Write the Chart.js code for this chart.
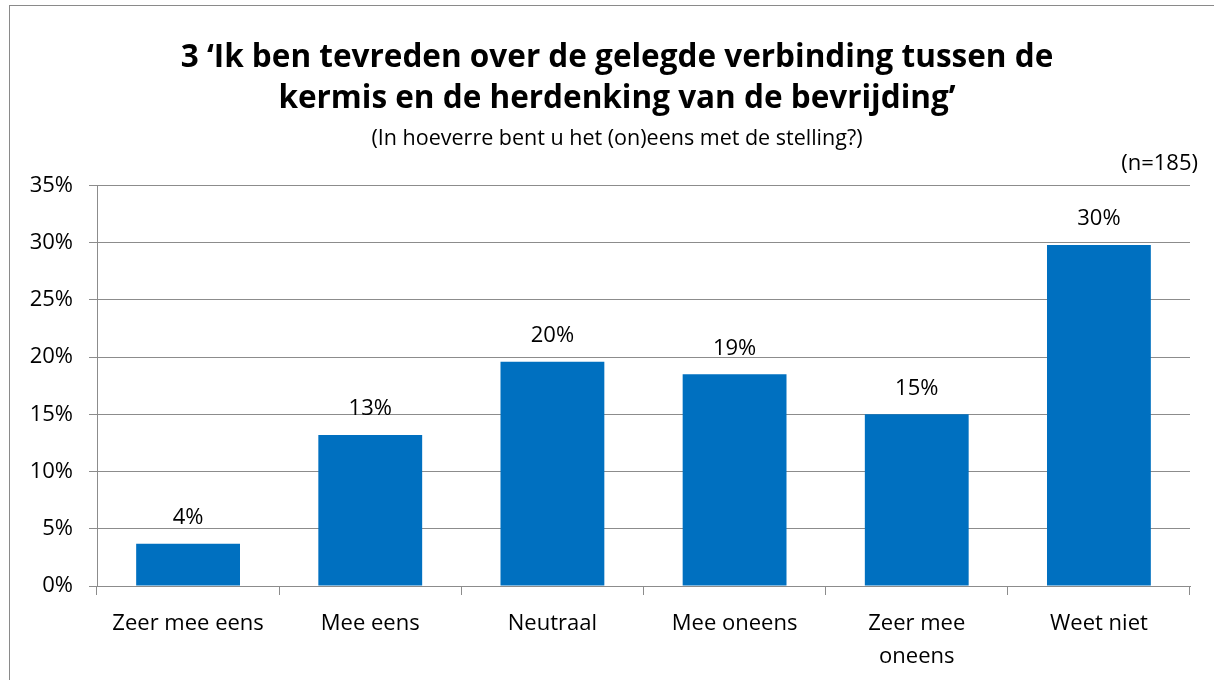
<!DOCTYPE html>
<html>
<head>
<meta charset="utf-8">
<script src="https://cdn.jsdelivr.net/npm/chart.js@4.4.0/dist/chart.umd.min.js"></script>
<style>
    body { margin: 0; background: #fff; }
    #wrap { position: relative; width: 1214px; height: 680px; overflow: hidden; }
    #frame { position: absolute; left: 9px; top: 5px; width: 1220px; height: 690px; border: 1px solid #8a8a8a; }
    canvas { position: absolute; left: 0; top: 0; }
</style>
</head>
<body>
<div id="wrap">
    <div id="frame"></div>
    <canvas id="myChart" width="1214" height="680"></canvas>
</div>
<script>
var categories = ["Zeer mee eens", "Mee eens", "Neutraal", "Mee oneens", ["Zeer mee", "oneens"], "Weet niet"];
var percentages = [3.7, 13.2, 19.6, 18.5, 15.0, 29.8];
var yTicks = [0, 5, 10, 15, 20, 25, 30, 35];
var titleLines = ["3 \u2018Ik ben tevreden over de gelegde verbinding tussen de", "kermis en de herdenking van de bevrijding\u2019"];
var subtitleText = "(In hoeverre bent u het (on)eens met de stelling?)";
var sampleText = "(n=185)";

var fontName = "'Open Sans', sans-serif";
var gridColor = "#8c8c8c";

// subtitle, value labels above bars, (n=185) top right
var extraText = {
    id: "extraText",
    afterLayout: function (chart) {
        // title is centred on the whole frame, not the padded area
        if (chart.titleBlock) { chart.titleBlock.left += 22; chart.titleBlock.right += 22; }
    },
    afterDatasetsDraw: function (chart) {
        var ctx = chart.ctx;
        var area = chart.chartArea;
        ctx.save();
        ctx.fillStyle = "#000";
        ctx.textBaseline = "middle";
        ctx.textAlign = "center";
        ctx.font = "21.5px " + fontName;
        ctx.fillText(subtitleText, (chart.titleBlock.left + chart.titleBlock.right) / 2, area.top - 47);
        ctx.font = "22px " + fontName;
        chart.getDatasetMeta(0).data.forEach(function (bar, i) {
            ctx.fillText(Math.round(percentages[i]) + "%", bar.x, bar.y - 26);
        });
        ctx.textAlign = "right";
        ctx.fillText(sampleText, area.right + 8, area.top - 22);
        ctx.restore();
    }
};

new Chart("myChart", {
    type: "bar",
    data: {
        labels: categories,
        datasets: [{
            data: percentages,
            backgroundColor: "#0070C0",
            borderWidth: 0,
            categoryPercentage: 0.57,
            barPercentage: 1
        }]
    },
    options: {
        responsive: false,
        animation: false,
        layout: {padding: {left: 0, right: 24, top: 0, bottom: 0}},
        plugins: {
            legend: {display: false},
            tooltip: {enabled: false},
            title: {
                display: true,
                text: titleLines,
                color: "#000",
                font: {family: fontName, size: 31.5, weight: "bold", lineHeight: 1.31},
                padding: {top: 37, bottom: 66}
            }
        },
        scales: {
            x: {
                grid: {display: true, drawOnChartArea: false, color: gridColor, tickLength: 9, offset: true},
                border: {color: gridColor},
                ticks: {color: "#000", font: {family: fontName, size: 22, lineHeight: 1.5}, padding: 12, maxRotation: 0, autoSkip: false},
                afterFit: function (scale) { scale.height = 94; }
            },
            y: {
                min: 0,
                max: 35,
                afterBuildTicks: function (scale) {
                    scale.ticks = yTicks.map(function (v) { return {value: v}; });
                },
                grid: {color: gridColor, tickLength: 8},
                border: {color: gridColor},
                ticks: {
                    color: "#000",
                    font: {family: fontName, size: 22},
                    padding: 16,
                    callback: function (v) { return v + "%"; }
                },
                afterFit: function (scale) { scale.width = 97; }
            }
        }
    },
    plugins: [extraText]
});
</script>
</body>
</html>
